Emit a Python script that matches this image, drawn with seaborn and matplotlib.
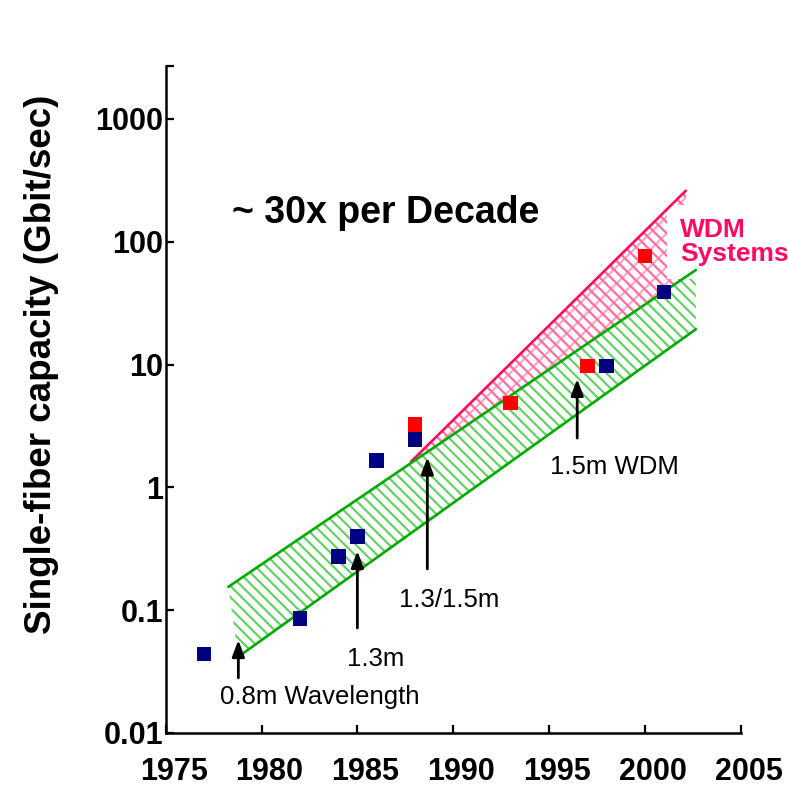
import numpy as np
import pandas as pd
import matplotlib
matplotlib.use("Agg")
import matplotlib.pyplot as plt
from matplotlib import font_manager, transforms
from matplotlib.ticker import NullLocator
import seaborn as sns

# ---------------- data ----------------
tdm_years = [1977, 1982, 1984, 1985, 1986, 1988, 1998, 2001]
tdm_caps = [0.044, 0.086, 0.273, 0.40, 1.66, 2.46, 9.75, 39]
wdm_years = [1988, 1993, 1997, 2000]
wdm_caps = [3.27, 4.87, 9.75, 76.6]

green_upper_x = [1978.27, 2002.66]
green_upper_y = [0.155, 58.9]
green_lower_x = [1978.79, 2002.66]
green_lower_y = [0.0418, 19.4]

wdm_upper_x = [1987.8, 2002.14]
wdm_upper_y = [1.62, 261]
wdm_lower_x = [1987.8, 2002.14]
wdm_lower_y = [1.58, 51.9]

arrow_x = [1978.79, 1985.0, 1988.65, 1996.47]
arrow_tail = [0.0281, 0.0716, 0.217, 2.52]
arrow_tip = [0.0571, 0.303, 1.75, 7.64]
note_labels = ["0.8m Wavelength", "1.3m", "1.3/1.5m", "1.5m WDM"]
note_x = [1983.05, 1985.97, 1989.78, 1998.42]
note_y = [0.0196, 0.040, 0.121, 1.47]

x_ticks = [1975, 1980, 1985, 1990, 1995, 2000, 2005]
y_ticks = [0.01, 0.1, 1, 10, 100, 1000]
y_tick_labels = ["0.01", "0.1", "1", "10", "100", "1000"]
y_top = 10 ** 3.434

# ---------------- style ----------------
sns.set_style("ticks")
plt.rcParams["font.family"] = ["Liberation Sans", "DejaVu Sans"]
plt.rcParams["hatch.linewidth"] = 1.6
plt.rcParams["text.color"] = "black"
plt.rcParams["axes.labelcolor"] = "black"

try:
    font_manager.findfont(font_manager.FontProperties(family="Liberation Sans Narrow", weight="bold"),
                          fallback_to_default=False)
    tick_family, tick_size = "Liberation Sans Narrow", 25
except Exception:
    tick_family, tick_size = "Liberation Sans", 22

GREEN = "#00aa00"
GREEN_H = "#66d066"
PINK = "#ff0a64"
PINK_H = "#ff6f9e"
PINK_H2 = "#ffa8c6"

fig = plt.figure(figsize=(7.88, 7.87), dpi=100)
ax = fig.add_axes([165.7 / 788, 1 - 733 / 787, (740.7 - 165.7) / 788, (733 - 65.7) / 787])
ax.set_yscale("log")
ax.set_xlim(1975, 2005)
ax.set_ylim(0.01, y_top)

# WDM band (pink)
px = wdm_upper_x + wdm_lower_x[::-1]
py = wdm_upper_y + wdm_lower_y[::-1]
ax.fill(px, py, facecolor="none", edgecolor=PINK_H2, hatch="//", linewidth=0, zorder=1)
ax.fill(px, py, facecolor="none", edgecolor=PINK_H, hatch="\\\\\\", linewidth=0, zorder=1.1)

# green band
gx = green_upper_x + green_lower_x[::-1]
gy = green_upper_y + green_lower_y[::-1]
ax.fill(gx, gy, facecolor="none", edgecolor=GREEN_H, hatch="\\\\\\", linewidth=0, zorder=1.2)

# WDM label with white box
ax.text(2001.83, 100, "WDM\nSystems", color=PINK, fontsize=19, fontweight="bold",
        ha="left", va="center", linespacing=1.0, zorder=2.5,
        bbox=dict(boxstyle="square,pad=0.5", facecolor="white", edgecolor="none"))

ax.plot(wdm_upper_x, wdm_upper_y, color=PINK, lw=1.9, zorder=3)
ax.plot(green_upper_x, green_upper_y, color=GREEN, lw=1.9, zorder=3)
ax.plot(green_lower_x, green_lower_y, color=GREEN, lw=1.9, zorder=3)

# data points
df = pd.DataFrame({
    "year": tdm_years + wdm_years,
    "capacity": tdm_caps + wdm_caps,
    "system": ["TDM"] * len(tdm_years) + ["WDM"] * len(wdm_years),
})
sns.scatterplot(data=df, x="year", y="capacity", hue="system",
                palette={"TDM": "#000080", "WDM": "#ff0000"},
                marker="s", s=112, linewidth=0, legend=False, ax=ax, zorder=5)

# arrows and notes
for xa, yt, yh in zip(arrow_x, arrow_tail, arrow_tip):
    ax.annotate("", xy=(xa, yh), xytext=(xa, yt),
                arrowprops=dict(arrowstyle="-|>,head_length=0.45,head_width=0.17",
                                mutation_scale=22, color="black", lw=2.0,
                                shrinkA=0, shrinkB=0), zorder=6)
for lab, xt, yt in zip(note_labels, note_x, note_y):
    ax.text(xt, yt, lab, fontsize=18.5, ha="center", va="center", color="black", zorder=6)

ax.text(1986.49, 172, "~ 30x per Decade", fontsize=27, fontweight="bold",
        ha="center", va="center", color="black")

# axes styling
for s in ["top", "right"]:
    ax.spines[s].set_visible(False)
for s in ["left", "bottom"]:
    ax.spines[s].set_linewidth(1.8)
    ax.spines[s].set_color("black")

ax.set_xticks(x_ticks)
ax.set_xticklabels([str(t) for t in x_ticks])
ax.set_yticks(y_ticks + [y_top])
ax.set_yticklabels(y_tick_labels + [""])
ax.yaxis.set_minor_locator(NullLocator())
ax.xaxis.set_minor_locator(NullLocator())
ax.tick_params(direction="in", length=6, width=1.6, colors="black")
ax.tick_params(axis="x", pad=17.5)
ax.tick_params(axis="y", pad=1.5)
ax.set_xlabel("")
ax.set_ylabel("Single-fiber capacity (Gbit/sec)", fontsize=26.5, fontweight="bold", color="black")
ax.yaxis.label.set_rotation(90)
ax.yaxis.label.set_va("center")
ax.yaxis.label.set_ha("center")
ax.yaxis.set_label_coords(42 / 788, 1 - 364 / 787, transform=fig.transFigure)
ax.grid(False)

offset = transforms.ScaledTranslation(0.08, 0, fig.dpi_scale_trans)
for lbl in ax.get_xticklabels():
    lbl.set_fontfamily(tick_family)
    lbl.set_fontweight("bold")
    lbl.set_fontsize(tick_size)
    lbl.set_color("black")
    lbl.set_transform(lbl.get_transform() + offset)
for lbl in ax.get_yticklabels():
    lbl.set_fontfamily(tick_family)
    lbl.set_fontweight("bold")
    lbl.set_fontsize(tick_size)
    lbl.set_color("black")

fig.savefig("out.png", dpi=100)
